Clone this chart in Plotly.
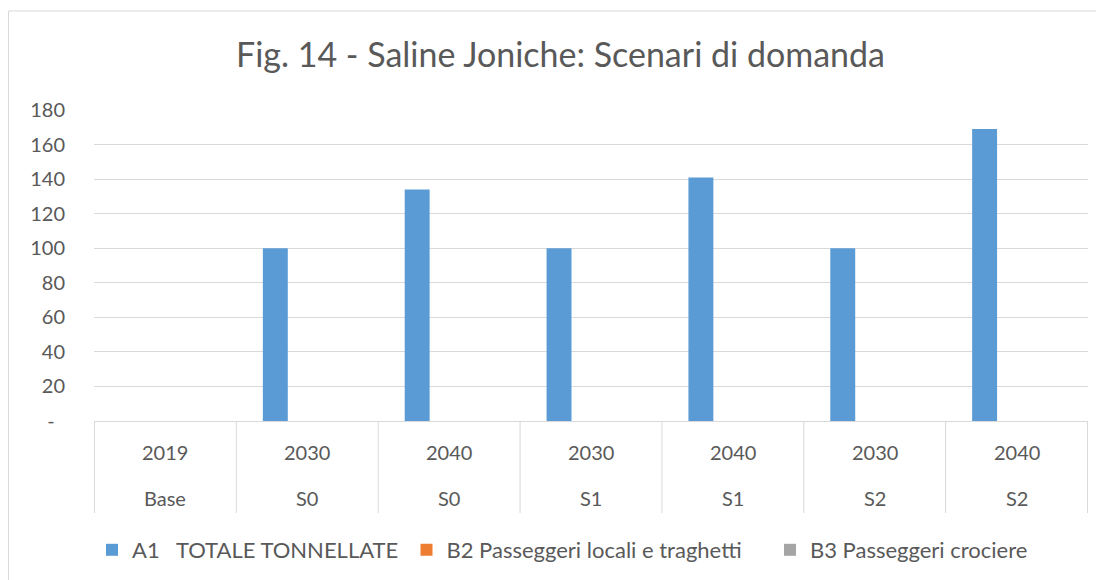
import plotly.graph_objects as go

# ---- data ----
years = ["2019", "2030", "2040", "2030", "2040", "2030", "2040"]
scenarios = ["Base", "S0", "S0", "S1", "S1", "S2", "S2"]
a1_totale = [0, 100, 134, 100, 141, 100, 169]
b2_passeggeri_locali = [0, 0, 0, 0, 0, 0, 0]
b3_passeggeri_crociere = [0, 0, 0, 0, 0, 0, 0]
series_names = ["A1\u00a0\u00a0 TOTALE TONNELLATE", "B2 Passeggeri locali e traghetti", "B3 Passeggeri crociere"]
y_tickvals = [0, 20, 40, 60, 80, 100, 120, 140, 160, 180]
y_ticktext = ["-\u00a0\u00a0", "20", "40", "60", "80", "100", "120", "140", "160", "180"]
title_text = "Fig. 14 - Saline Joniche: Scenari di domanda"

categories = [f"{y} {s}" for y, s in zip(years, scenarios)]
colors = ["#5B9BD5", "#ED7D31", "#A5A5A5"]
FONT = "Lato"
TXT = "#595959"

# page has an 8px body margin; work in page pixels and convert
OFF = 8
W, H = 1104 - OFF, 580 - OFF
PL, PR, PT, PB = 94, 1088, 110, 421          # plot area in page pixels
L, T = PL - OFF, PT - OFF
R = W - (PR - OFF)
B = H - (PB - OFF)
plot_h = PB - PT
plot_w = PR - PL

def py(page_y):  # page y -> paper y (plot area)
    return (PB - page_y) / plot_h

def px(page_x):  # page x -> paper x (plot area)
    return (page_x - PL) / plot_w

def cx(page_x):  # page x -> container x
    return (page_x - OFF) / W

def cy(page_y):  # page y -> container y
    return 1 - (page_y - OFF) / H

legend_ids = ["legend", "legend2", "legend3"]
legend_sym_center = [117, 431.5, 795]   # page x anchors of legend entries

fig = go.Figure()
for name, vals, c, lid in zip(series_names, [a1_totale, b2_passeggeri_locali, b3_passeggeri_crociere], colors, legend_ids):
    fig.add_trace(go.Bar(x=categories, y=vals, name=name, legend=lid,
                         marker=dict(color=c, line=dict(width=0))))

shapes = []
for i in range(len(categories) + 1):
    shapes.append(dict(type="line", xref="x", yref="paper", x0=i - 0.5, x1=i - 0.5,
                       y0=0, y1=py(513), line=dict(color="#D9D9D9", width=1)))
# outer chart border
shapes.append(dict(type="rect", xref="paper", yref="paper",
                   x0=px(8.5), x1=1.2, y0=py(11), y1=py(800),
                   line=dict(color="#D9D9D9", width=1), layer="below"))

annotations = []
for cat, yr, sc in zip(categories, years, scenarios):
    annotations.append(dict(x=cat, xref="x", y=py(451.5), yref="paper", text=yr, showarrow=False,
                            yanchor="middle", font=dict(family=FONT, size=20, color=TXT)))
    annotations.append(dict(x=cat, xref="x", y=py(497.5), yref="paper", text=sc, showarrow=False,
                            yanchor="middle", font=dict(family=FONT, size=20, color=TXT)))

layout_legends = {}
for lid, sx in zip(legend_ids, legend_sym_center):
    layout_legends[lid] = dict(orientation="h", xref="container", yref="container",
                               x=cx(sx - 25), xanchor="left", y=cy(550), yanchor="middle",
                               font=dict(family=FONT, size=22, color=TXT),
                               bgcolor="rgba(0,0,0,0)", borderwidth=0)

fig.update_layout(
    width=W, height=H,
    margin=dict(l=L, r=R, t=T, b=B),
    paper_bgcolor="white", plot_bgcolor="white",
    title=dict(text=title_text, xref="container", x=cx(560.5), xanchor="center",
               yref="container", y=cy(55), yanchor="middle",
               font=dict(family=FONT, size=34, color=TXT)),
    barmode="group", bargap=0.324, bargroupgap=0.22,
    xaxis=dict(type="category", showticklabels=False, showgrid=False, showline=True,
               linecolor="#D9D9D9", linewidth=1, ticks="", fixedrange=True),
    yaxis=dict(range=[0, 180], tickvals=y_tickvals, ticktext=y_ticktext, showgrid=True,
               gridcolor="#D9D9D9", gridwidth=1, zeroline=False, showline=False,
               ticks="", ticklabelstandoff=28, tickfont=dict(family=FONT, size=20, color=TXT)),
    shapes=shapes, annotations=annotations,
    showlegend=True,
    **layout_legends,
)

fig.write_html("out.html")
